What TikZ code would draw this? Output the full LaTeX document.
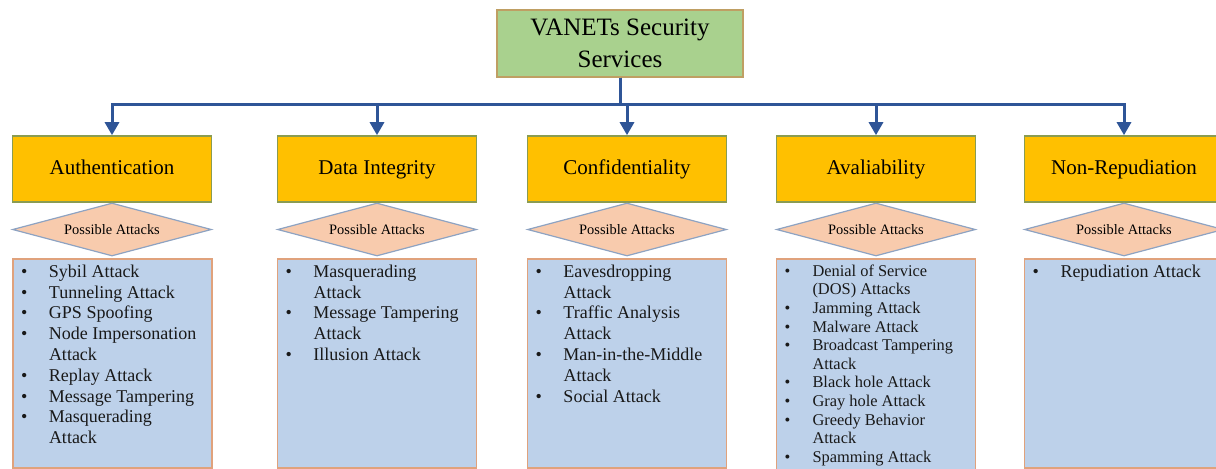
\documentclass[tikz,border=0pt]{standalone}
\usepackage{fontspec}
\setmainfont{Liberation Serif}
\usetikzlibrary{arrows.meta,shapes.geometric}
\definecolor{topfill}{HTML}{A9D18E}
\definecolor{topline}{HTML}{BF9F63}
\definecolor{servfill}{HTML}{FFC000}
\definecolor{servline}{HTML}{8A9C52}
\definecolor{askfill}{HTML}{F8CBAD}
\definecolor{askline}{HTML}{8EA3C2}
\definecolor{atkfill}{HTML}{BDD1EA}
\definecolor{atkline}{HTML}{E0A27C}
\definecolor{arrblue}{HTML}{2F5597}
\newcommand{\atk}[1]{\par\hangindent=14pt\hangafter=1\noindent\makebox[14pt][l]{\textbullet}#1}

\begin{document}
\begin{tikzpicture}[x=0.5pt,y=-0.5pt,
		topbox/.style={draw=topline,fill=topfill,line width=0.8pt,minimum width=123pt,minimum height=33.5pt,align=center,font=\fontsize{12.5}{16}\selectfont},
		servbox/.style={draw=servline,fill=servfill,line width=0.8pt,minimum width=99.5pt,minimum height=33pt,text height=7.6pt,text depth=2.3pt,font=\fontsize{10.5}{12}\selectfont},
		askbox/.style={diamond,aspect=3.75,inner sep=0pt,draw=askline,fill=askfill,line width=0.6pt,minimum width=99.5pt,minimum height=26.5pt,font=\fontsize{7.2}{8}\selectfont},
		atkbox/.style={draw=atkline,fill=atkfill,line width=0.8pt,anchor=north,inner xsep=4pt,inner ysep=3pt,text=black!90,font=\fontsize{9}{10.4}\selectfont},
		arr/.style={draw=arrblue,line width=1.5pt,-{Triangle[length=6.5pt,width=7pt]}}]
	\useasboundingbox (0,0) rectangle (1216,468);
	\clip (0,0) rectangle (1216,468);
%
	\node[topbox] (vanet) at (620,43.5) {VANETs Security\\Services};
	\coordinate (bus) at (620,104);
%
	\node[servbox] (auth) at (112,169) {Authentication};
	\node[servbox] (integ) at (377,169) {Data Integrity};
	\node[servbox] (conf) at (627,169) {Confidentiality};
	\node[servbox] (avail) at (876,169) {Avaliability};
	\node[servbox] (nonrep) at (1124,169) {Non-Repudiation};
%
	\node[askbox] (authq) at (112,229.5) {Possible Attacks};
	\node[askbox] (integq) at (377,229.5) {Possible Attacks};
	\node[askbox] (confq) at (627,229.5) {Possible Attacks};
	\node[askbox] (availq) at (876,229.5) {Possible Attacks};
	\node[askbox] (nonrepq) at (1124,229.5) {Possible Attacks};
%
	\node[atkbox] (authl) at (112.5,258) {\parbox[t][98.5pt][t]{91.5pt}{\raggedright
		\atk{Sybil Attack}
		\atk{Tunneling Attack}
		\atk{GPS Spoofing}
		\atk{Node Impersonation\newline Attack}
		\atk{Replay Attack}
		\atk{Message Tampering}
		\atk{Masquerading\newline Attack}}};
	\node[atkbox] (integl) at (377,258) {\parbox[t][98.5pt][t]{91.5pt}{\raggedright
		\atk{Masquerading\newline Attack}
		\atk{Message Tampering\newline Attack}
		\atk{Illusion Attack}}};
	\node[atkbox] (confl) at (627,258) {\parbox[t][98.5pt][t]{91.5pt}{\raggedright
		\atk{Eavesdropping\newline Attack}
		\atk{Traffic Analysis\newline Attack}
		\atk{Man-in-the-Middle\newline Attack}
		\atk{Social Attack}}};
	\node[atkbox,font=\fontsize{8.2}{9.3}\selectfont] (availl) at (876,258) {\parbox[t][106pt][t]{91.5pt}{\raggedright
		\atk{Denial of Service\newline (DOS) Attacks}
		\atk{Jamming Attack}
		\atk{Malware Attack}
		\atk{Broadcast Tampering\newline Attack}
		\atk{Black hole Attack}
		\atk{Gray hole Attack}
		\atk{Greedy Behavior\newline Attack}
		\atk{Spamming Attack}}};
	\node[atkbox] (nonrepl) at (1124,258) {\parbox[t][98.5pt][t]{91.5pt}{\raggedright
		\atk{Repudiation Attack}}};
%
	\foreach \s in {auth,integ,conf,avail,nonrep}
		\draw[arr] (vanet.south) -- (vanet.south |- bus) -| (\s.north);
\end{tikzpicture}
\end{document}
